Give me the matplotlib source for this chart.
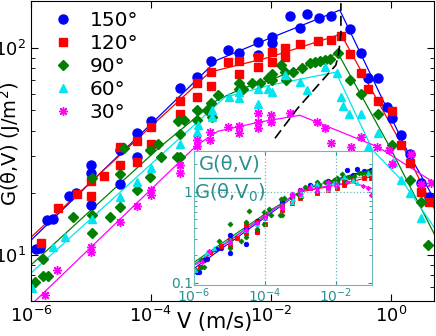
import numpy as np
import matplotlib
matplotlib.use("Agg")
import matplotlib.pyplot as plt

plt.rcParams['font.family'] = ['DejaVu Sans']
plt.rcParams['mathtext.fontset'] = 'dejavusans'

labels = ['150°', '120°', '90°', '60°', '30°']
colors = ['#0000ff', '#ff0000', '#007f00', '#00e5ee', '#ff00ff']
markers = ['o', 's', 'D', '^', (8, 2, 0)]
msizes = [6.5, 6, 5, 6, 6.5]

# measured points, V in m/s, G in J/m^2
v150 = [1.2e-6, 1.4e-6, 1.85e-6, 2.3e-6, 4.3e-6, 5.6e-6, 1e-5, 1e-5, 1e-5, 3e-5, 3e-5, 5.9e-5, 5.9e-5,
        1e-4, 3e-4, 5.9e-4, 1e-3, 1.9e-3, 2.9e-3, 6e-3, 6e-3, 1.05e-2, 1.05e-2, 2.1e-2, 3e-2, 4e-2,
        6.3e-2, 0.1, 0.21, 0.32, 0.41, 0.6, 0.85, 1.04, 1.5, 2.1, 3.2, 4.3]
g150 = [10.7, 10.8, 14.8, 14.9, 19.3, 19.9, 27.2, 24.9, 17.5, 32.2, 22.0, 38.8, 29.7,
        44.4, 64.1, 72.4, 86.5, 98, 95, 107, 92.5, 113, 106, 143, 125, 146,
        140, 143, 124, 95, 71.6, 71.6, 51.9, 45.9, 38, 30.8, 22.3, 19.1]

v120 = [1.47e-6, 2.8e-6, 5.9e-6, 1e-5, 1e-5, 1.64e-5, 3e-5, 3e-5, 5.9e-5, 5.9e-5, 1e-4, 1e-4,
        3e-4, 3e-4, 5.9e-4, 5.9e-4, 1e-3, 1e-3, 1.9e-3, 2.9e-3, 2.9e-3, 6e-3, 6e-3, 1.05e-2,
        1.05e-2, 1.7e-2, 1.7e-2, 3e-2, 6e-2, 0.1, 0.148, 0.21, 0.32, 0.41, 0.6, 1.04, 1.5, 2.07,
        3.2, 4.3]
g120 = [11.4, 16.9, 19.7, 22.8, 19.3, 24.1, 33.3, 27.2, 35.6, 28.1, 41.5, 34.4,
        55.5, 48, 67.8, 57.9, 76.6, 65.5, 85.6, 86.5, 74.8, 90.5, 80.9, 95.6,
        85.6, 100, 90.5, 104.5, 108, 110, 114, 93.6, 75.7, 63.4, 55.5, 49.6, 34, 27.8,
        20.1, 18]

v90 = [1.17e-6, 1.58e-6, 1.92e-6, 1.58e-6, 5e-6, 1.05e-5, 1.05e-5, 1.05e-5, 2.1e-5, 3e-5, 3e-5,
       3.5e-5, 5.9e-5, 9.6e-5, 9.6e-5, 1.3e-4, 1.5e-4, 2.7e-4, 3e-4, 2.8e-4, 3e-4, 3.5e-4,
       5.9e-4, 5.9e-4, 8.6e-4, 1e-3, 1.3e-3, 1.03e-3, 2.9e-3, 2.9e-3, 3.4e-3, 4.8e-3, 6.6e-3,
       8.9e-3, 1.05e-2, 1.05e-2, 1.5e-2, 1.7e-2, 1.8e-2, 2.3e-2, 3.3e-2, 4.5e-2, 5.4e-2,
       6.6e-2, 7.9e-2, 9.6e-2, 0.13, 0.21, 0.32, 0.6, 1.04, 2.07, 3.2, 4.1]
g90 = [7.41, 7.93, 7.93, 9.57, 15.3, 15.6, 12.8, 23.6, 15.3, 24.6, 17.1,
       32.9, 20.6, 23.8, 32.1, 34.4, 29.7, 29.7, 29.7, 44.4, 38.5, 44.9,
       50.2, 44.9, 50.2, 54.2, 59.3, 46.4, 67.8, 63.4, 63.4, 67.8, 67.8,
       71.6, 74.8, 70, 82.8, 76.6, 70, 76.6, 80, 84.7, 85.6,
       86.5, 87.5, 88.5, 95, 70, 60, 48, 34, 23, 18, 11.2]

v60 = [1.04e-6, 2.3e-6, 3.7e-6, 1.05e-5, 3e-5, 5.9e-5, 1e-4, 3e-4, 5.9e-4, 6e-4, 1.04e-3,
       1.04e-3, 2e-3, 2.9e-3, 2.9e-3, 6e-3, 6e-3, 8.9e-3, 1.05e-2, 1.7e-2, 3e-2, 4e-2, 7.9e-2,
       0.125, 0.147, 0.16, 0.2, 0.32, 0.41, 0.6, 1.08, 1.5, 2.07, 3.2]
g60 = [6.93, 11, 12.2, 14.9, 19.1, 22.5, 26.3, 34.4, 39.3, 42.5, 50.2,
       46.4, 57.9, 57.3, 61.2, 53.6, 63.4, 63.4, 61.2, 74.1, 68.5, 62.6, 80.9,
       75.7, 57.9, 52.5, 48, 48, 33.3, 38.8, 28.1, 23, 19.9, 15.1]

v30 = [1.7e-6, 2.7e-6, 1e-5, 1e-5, 3e-5, 5.9e-5, 1e-4, 1e-4, 3e-4, 3e-4, 5.9e-4, 5.9e-4,
       9.6e-4, 9.6e-4, 1.9e-3, 2.9e-3, 2.9e-3, 6e-3, 6e-3, 6e-3, 1e-2, 1e-2, 2.1e-2, 5.8e-2,
       7.9e-2, 0.1, 0.22, 0.32, 0.58, 0.93, 1.04, 2.2, 3.2, 4.6]
g30 = [6.41, 8.47, 10.9, 10.3, 14.4, 17.3, 20.6, 19.5, 24.9, 27.2, 35.9, 33.7,
       39.3, 35.9, 41.5, 42, 38.8, 48.5, 44, 41.1, 47.4, 44, 48.5, 44,
       41.1, 34.8, 33.3, 37.2, 33.3, 32.2, 27.5, 30.8, 22, 22.3]

# fitted curves
fv150 = [1e-6, 1.26e-3, 9.6e-3, 0.141, 1.85, 5.2]
fg150 = [11.8, 87.5, 111.7, 152.7, 32.1, 18.8]
fv120 = [1e-6, 9.6e-4, 9.6e-3, 0.147, 1.71, 5.2]
fg120 = [12.2, 76.6, 90.5, 116.9, 32.1, 16.9]
fv90 = [1e-6, 1.41e-4, 1.26e-3, 3.4e-3, 9.6e-3, 0.131, 0.96, 5.4]
fg90 = [8.96, 33.3, 56.1, 64.1, 70, 94.6, 33.3, 12.5]
fv60 = [1e-6, 2.07e-4, 1.71e-3, 9.6e-3, 0.121, 0.5, 1.52, 5.4]
fg60 = [8.19, 33.3, 57.9, 66.2, 76.6, 32.1, 23, 13.5]
fv30 = [1.17e-6, 5.85e-4, 1.31e-3, 6.56e-3, 3.05e-2, 0.61, 5.4]
fg30 = [6.0, 34, 39.7, 44, 47.4, 33.3, 22.3]

# dashed line through the maxima
peak_v = [1.17e-2, 2.8e-2, 0.121, 0.135, 0.147, 0.147]
peak_g = [36.7, 51.3, 82.8, 94.6, 118, 165]

V0 = 1e-3

pts = [(v150, g150), (v120, g120), (v90, g90), (v60, g60), (v30, g30)]
fits = [(fv150, fg150), (fv120, fg120), (fv90, fg90), (fv60, fg60), (fv30, fg30)]

fig = plt.figure(figsize=(4.36, 3.36), dpi=100)
ax = fig.add_axes([0.071, 0.104, 0.924, 0.893])

for i in range(5):
    ax.plot(fits[i][0], fits[i][1], '-', color=colors[i], lw=0.9)
for i in range(5):
    ax.plot(pts[i][0], pts[i][1], linestyle='none', marker=markers[i], color=colors[i],
            markersize=msizes[i], markeredgewidth=1.0, label=labels[i])
ax.plot(peak_v, peak_g, '--', color='black', lw=1.2, dashes=(6, 3))

ax.set_xscale('log')
ax.set_yscale('log')
ax.set_xlim(1e-6, 5.2)
ax.set_ylim(6.0, 169)
ax.set_xticks([1e-6, 1e-4, 1e-2, 1e0])
ax.xaxis.set_minor_locator(matplotlib.ticker.NullLocator())
ax.tick_params(which='both', direction='in', top=True, right=True, labelsize=13)
ax.tick_params(which='major', length=5)
ax.tick_params(which='minor', length=3)
ax.set_xlabel('V (m/s)', fontsize=15)
ax.xaxis.set_label_coords(0.455, -0.035)
ax.set_ylabel('G(θ,V) (J/m$^2$)', fontsize=14)
ax.yaxis.set_label_coords(-0.02, 0.525)

leg = ax.legend(loc='upper left', frameon=False, fontsize=14.5, handlelength=0.8,
                handletextpad=0.9, labelspacing=0.2, borderaxespad=0.1,
                bbox_to_anchor=(0.035, 1.0))

# inset: normalised by the fit value at V0
teal = '#2a8f8f'
axi = fig.add_axes([0.445, 0.152, 0.408, 0.399])
axi.set_facecolor('white')
for i in range(5):
    g0 = 10 ** np.interp(np.log10(V0), np.log10(fits[i][0]), np.log10(fits[i][1]))
    fv = np.logspace(-6, -1, 60)
    fg = 10 ** np.interp(np.log10(fv), np.log10(fits[i][0]), np.log10(fits[i][1]))
    axi.plot(fv, fg / g0, '-', color=colors[i], lw=0.8)
for i in range(5):
    v = np.array(pts[i][0])
    g = np.array(pts[i][1])
    g0 = 10 ** np.interp(np.log10(V0), np.log10(fits[i][0]), np.log10(fits[i][1]))
    keep = v <= 0.1
    axi.plot(v[keep], g[keep] / g0, linestyle='none', marker=markers[i], color=colors[i],
             markersize=msizes[i] * 0.5, markeredgewidth=0.6)
axi.set_xscale('log')
axi.set_yscale('log')
axi.set_xlim(1e-6, 0.103)
axi.set_ylim(0.095, 2.82)
axi.set_xticks([1e-6, 1e-4, 1e-2])
axi.set_yticks([0.1, 1])
axi.set_yticklabels(['0.1', '1'])
axi.xaxis.set_minor_locator(matplotlib.ticker.NullLocator())
axi.tick_params(which='both', direction='in', right=True, top=True, labelsize=10,
                colors=teal, pad=1)
axi.tick_params(which='major', length=3)
axi.tick_params(which='minor', length=2)
for s in axi.spines.values():
    s.set_color('#6fb8b8')
for xg in [1e-4, 1e-2]:
    axi.axvline(xg, color='#6fb8b8', ls=':', lw=0.9)
axi.axhline(1, color='#6fb8b8', ls=':', lw=0.9)
axi.text(0.2, 0.97, 'G(θ,V)', transform=axi.transAxes, color=teal, fontsize=14,
         ha='center', va='top')
axi.plot([0.03, 0.37], [0.8, 0.8], transform=axi.transAxes, color=teal, lw=1.0)
axi.text(0.2, 0.77, 'G(θ,V$_0$)', transform=axi.transAxes, color=teal, fontsize=14,
         ha='center', va='top')

fig.savefig('out.png', dpi=100)
